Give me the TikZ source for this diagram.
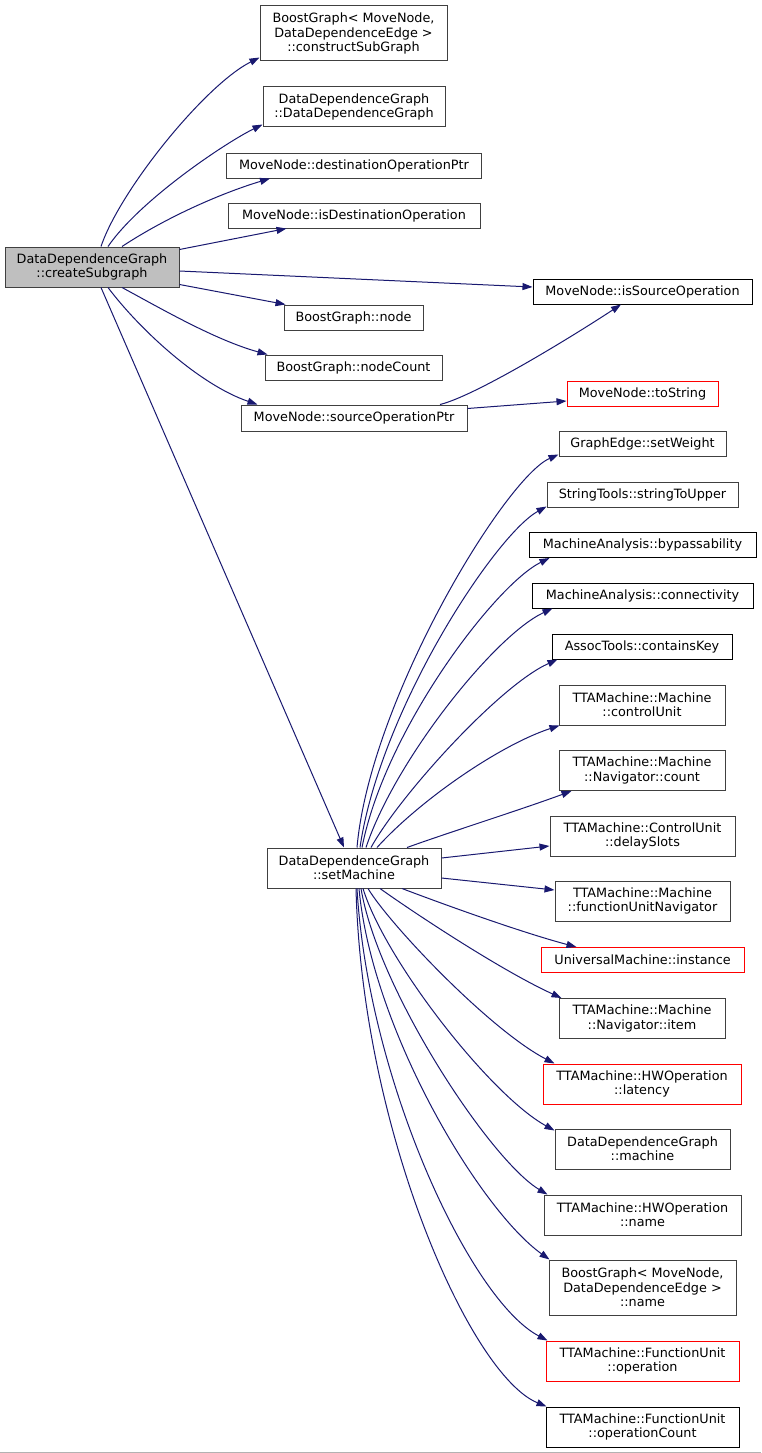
\documentclass[tikz,border=0pt]{standalone}
\usepackage{fontspec}
\setmainfont{DejaVu Sans}
\usetikzlibrary{arrows.meta}
\definecolor{edgeblue}{HTML}{191970}
\definecolor{boxgrey}{HTML}{404040}
\definecolor{fillgrey}{HTML}{BFBFBF}
\definecolor{linkred}{HTML}{FF0000}
\begin{document}
\begin{tikzpicture}[x=1pt,y=-1pt,
  fn/.style={draw=boxgrey, line width=1pt, inner sep=0pt, align=center,
    font=\fontsize{12.8}{14.4}\selectfont, text=black},
  fnred/.style={fn, draw=linkred},
  fnblack/.style={fn, draw=black},
  one/.style={minimum height=25pt},
  two/.style={minimum height=40pt},
  three/.style={minimum height=55pt},
  edge/.style={draw=edgeblue, line width=1pt, -{Triangle[length=10pt,width=7pt]}}]
\fill[white] (0,0) rectangle (761,1453);
\useasboundingbox (0,0) rectangle (761,1453);
\draw[gray!60, line width=1pt] (0,1452) -- (761,1452);

% left / middle column
\node[fn, two, minimum width=174pt, fill=fillgrey] (cs) at (92,267) {DataDependenceGraph\\::createSubgraph};
\node[fn, three, minimum width=187pt] (csg) at (353.5,33.5) {BoostGraph< MoveNode,\\DataDependenceEdge >\\::constructSubGraph};
\node[fn, two, minimum width=182pt] (ddg) at (354,107) {DataDependenceGraph\\::DataDependenceGraph};
\node[fn, one, minimum width=255pt] (dop) at (354,165.5) {MoveNode::destinationOperationPtr};
\node[fn, one, minimum width=252pt] (ido) at (354,215.5) {MoveNode::isDestinationOperation};
\node[fn, one, minimum width=139pt] (bgn) at (353.5,317.5) {BoostGraph::node};
\node[fn, one, minimum width=177pt] (bgnc) at (353.5,367.5) {BoostGraph::nodeCount};
\node[fn, minimum height=26pt, minimum width=226pt] (sop) at (354,418) {MoveNode::sourceOperationPtr};
\node[fn, two, minimum width=174pt] (sm) at (354,868) {DataDependenceGraph\\::setMachine};

% right column
\node[fnblack, one, minimum width=219pt] (iso) at (642.5,291.5) {MoveNode::isSourceOperation};
\node[fnred, one, minimum width=151pt] (ts) at (642.5,393.5) {MoveNode::toString};
\node[fn, one, minimum width=167pt] (sw) at (642.5,443.5) {GraphEdge::setWeight};
\node[fn, one, minimum width=191pt] (stu) at (642.5,494.5) {StringTools::stringToUpper};
\node[fnblack, one, minimum width=227pt] (byp) at (642.5,545) {MachineAnalysis::bypassability};
\node[fnblack, one, minimum width=221pt] (con) at (642.5,595.5) {MachineAnalysis::connectivity};
\node[fnblack, one, minimum width=180pt] (ck) at (642,646.5) {AssocTools::containsKey};
\node[fn, two, minimum width=166pt] (cu) at (642,705) {TTAMachine::Machine\\::controlUnit};
\node[fn, two, minimum width=166pt] (nc) at (642,770.5) {TTAMachine::Machine\\::Navigator::count};
\node[fn, two, minimum width=185pt] (ds) at (642.5,836) {TTAMachine::ControlUnit\\::delaySlots};
\node[fn, two, minimum width=175pt] (fun) at (642.5,901) {TTAMachine::Machine\\::functionUnitNavigator};
\node[fnred, one, minimum width=203pt] (inst) at (642.5,960) {UniversalMachine::instance};
\node[fn, two, minimum width=166pt] (item) at (642,1018.5) {TTAMachine::Machine\\::Navigator::item};
\node[fnred, two, minimum width=198pt] (lat) at (642,1084) {TTAMachine::HWOperation\\::latency};
\node[fn, two, minimum width=175pt] (mach) at (642.5,1149) {DataDependenceGraph\\::machine};
\node[fn, two, minimum width=197pt] (hwn) at (642.5,1215) {TTAMachine::HWOperation\\::name};
\node[fn, three, minimum width=187pt] (bgname) at (642.5,1287.5) {BoostGraph< MoveNode,\\DataDependenceEdge >\\::name};
\node[fnred, two, minimum width=193pt] (fuo) at (642.5,1361) {TTAMachine::FunctionUnit\\::operation};
\node[fnblack, two, minimum width=193pt] (fuoc) at (642.5,1427) {TTAMachine::FunctionUnit\\::operationCount};

% edges from createSubgraph
\draw[edge] ([xshift=9pt]cs.north) .. controls (120,190) and (205,85) .. ([yshift=4pt]csg.south west);
\draw[edge] ([xshift=16pt]cs.north) .. controls (140,200) and (225,143) .. ([yshift=3pt]ddg.south west);
\draw[edge] ([xshift=30pt]cs.north) .. controls (170,215) and (225,192) .. ([xshift=44pt]dop.south west);
\draw[edge] ([yshift=-3pt]cs.north east) -- ([xshift=59pt]ido.south west);
\draw[edge] ([yshift=-4pt]cs.east) -- ([yshift=4.5pt]iso.west);
\draw[edge] ([yshift=3pt]cs.south east) -- ([xshift=2pt]bgn.north west);
\draw[edge] ([xshift=30pt]cs.south) .. controls (160,308) and (215,340) .. ([xshift=3pt]bgnc.north west);
\draw[edge] ([xshift=16pt]cs.south) .. controls (140,330) and (200,385) .. ([xshift=17pt]sop.north west);
\draw[edge] ([xshift=9pt]cs.south) -- ([xshift=-10pt]sm.north);

% edges from sourceOperationPtr
\draw[edge] ([xshift=86pt]sop.north) .. controls (475,396) and (570,338) .. ([xshift=-21.5pt]iso.south);
\draw[edge] ([yshift=9.5pt]sop.east) -- ([yshift=-7.5pt]ts.west);

% edges from setMachine
\draw[edge] ([xshift=3pt]sm.north) .. controls (370,700) and (505,478) .. ([yshift=2pt]sw.south west);
\draw[edge] ([xshift=6pt]sm.north) .. controls (380,710) and (495,535) .. ([yshift=1pt]stu.south west);
\draw[edge] ([xshift=8pt]sm.north) .. controls (385,730) and (495,585) .. ([xshift=21pt]byp.south west);
\draw[edge] ([xshift=12pt]sm.north) .. controls (395,760) and (495,635) .. ([xshift=21pt]con.south west);
\draw[edge] ([xshift=17pt]sm.north) .. controls (400,795) and (500,685) .. ([xshift=6pt]ck.south west);
\draw[edge] ([xshift=23pt]sm.north) .. controls (420,800) and (500,745) .. ([xshift=1pt]cu.south west);
\draw[edge] ([xshift=53pt]sm.north) .. controls (450,832) and (520,810) .. ([xshift=13pt]nc.south west);
\draw[edge] ([yshift=10pt]sm.east) -- ([yshift=-10pt]ds.west);
\draw[edge] ([yshift=-10pt]sm.east) -- ([yshift=11pt]fun.west);
\draw[edge] ([xshift=48pt]sm.south) .. controls (440,903) and (520,932) .. ([xshift=36pt]inst.north west);
\draw[edge] ([xshift=26pt]sm.south) .. controls (410,910) and (500,970) .. ([xshift=3pt]item.north west);
\draw[edge] ([xshift=14pt]sm.south) .. controls (390,925) and (490,1030) .. ([xshift=12pt]lat.north west);
\draw[edge] ([xshift=9pt]sm.south) .. controls (385,960) and (490,1095) .. ([yshift=-2pt]mach.north west);
\draw[edge] ([xshift=7pt]sm.south) .. controls (378,990) and (490,1160) .. ([xshift=4pt]hwn.north west);
\draw[edge] ([xshift=5pt]sm.south) .. controls (372,1030) and (480,1210) .. ([xshift=1pt]bgname.north west);
\draw[edge] ([xshift=3pt]sm.south) .. controls (368,1080) and (470,1300) .. ([xshift=2pt]fuo.north west);
\draw[edge] ([xshift=2pt]sm.south) .. controls (362,1130) and (470,1375) .. ([xshift=1pt]fuoc.north west);
\end{tikzpicture}
\end{document}
